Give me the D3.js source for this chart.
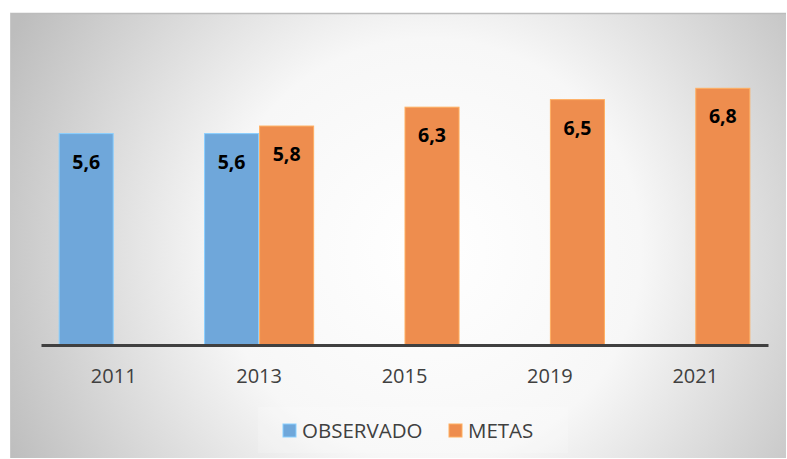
<!DOCTYPE html>
<html>
<head>
<meta charset="utf-8">
<script src="https://cdn.jsdelivr.net/npm/d3@7"></script>
<style>
  body { margin: 0; background: #fff; }
  svg { display: block; }
</style>
</head>
<body>
<div id="chart"></div>
<script>
// data
var years = ['2011', '2013', '2015', '2019', '2021'];
var seriesNames = ['OBSERVADO', 'METAS'];
var observado = [5.6, 5.6, null, null, null];
var metas = [null, 5.8, 6.3, 6.5, 6.8];
var colors = ['#6fa7da', '#ee8d4e'];

var w = 787, h = 459;
var margin = {t: 43, r: 19, b: 114, l: 41};
var pw = w - margin.l - margin.r,
	ph = h - margin.t - margin.b;

var svg = d3.select('#chart').append('svg')
	.attr('width', w)
	.attr('height', h);

// panel background (radial grey->white)
var defs = svg.append('defs');
var grad = defs.append('radialGradient')
	.attr('id', 'bg')
	.attr('gradientUnits', 'userSpaceOnUse')
	.attr('cx', 430).attr('cy', 250).attr('r', 470);
grad.append('stop').attr('offset', '0%').attr('stop-color', '#ffffff');
grad.append('stop').attr('offset', '45%').attr('stop-color', '#f7f7f7');
grad.append('stop').attr('offset', '100%').attr('stop-color', '#bdbdbd');

svg.append('rect')
	.attr('x', 10).attr('y', 13)
	.attr('width', w - 11).attr('height', h - 14)
	.attr('fill', 'url(#bg)');
svg.append('line')
	.attr('x1', 10).attr('x2', w - 1)
	.attr('y1', 13.5).attr('y2', 13.5)
	.attr('stroke', '#bcbcbc').attr('stroke-width', 1.5);
svg.append('line')
	.attr('x1', 10.5).attr('x2', 10.5)
	.attr('y1', 13).attr('y2', h - 1)
	.attr('stroke', '#c8c8c8').attr('stroke-width', 1);

// faint legend backdrop
svg.append('rect')
	.attr('x', 258).attr('y', 407)
	.attr('width', 310).attr('height', 46)
	.attr('fill', '#fff').attr('opacity', 0.18);

var g = svg.append('g')
	.attr('transform', 'translate(' + margin.l + ',' + margin.t + ')');

var x0 = d3.scaleBand().domain(years).range([0, pw]).paddingInner(0.243).paddingOuter(0.1215);
var x1 = d3.scaleBand().domain(seriesNames).range([0, x0.bandwidth()]);
var y = d3.scaleLinear().domain([0, 8]).range([ph, 0]);

var rows = years.map(function(yr, i) {
	return {year: yr, vals: [
		{s: seriesNames[0], v: observado[i], c: colors[0]},
		{s: seriesNames[1], v: metas[i], c: colors[1]}
	].filter(function(d) { return d.v != null; })};
});

var groups = g.selectAll('.grp')
	.data(rows)
	.enter().append('g')
	.attr('class', 'grp')
	.attr('transform', function(d) { return 'translate(' + x0(d.year) + ',0)'; });

groups.selectAll('rect')
	.data(function(d) { return d.vals; })
	.enter().append('rect')
	.attr('x', function(d) { return x1(d.s) + 0.5; })
	.attr('width', x1.bandwidth() - 1)
	.attr('y', function(d) { return y(d.v); })
	.attr('height', function(d) { return ph - y(d.v); })
	.attr('fill', function(d) { return d.c; })
	.attr('stroke', function(d) { return d3.color(d.c).brighter(0.6); })
	.attr('stroke-width', 1);

// value labels
groups.selectAll('text.val')
	.data(function(d) { return d.vals; })
	.enter().append('text')
	.attr('class', 'val')
	.attr('x', function(d) { return x1(d.s) + x1.bandwidth() / 2; })
	.attr('y', function(d) { return y(d.v) + 35; })
	.attr('text-anchor', 'middle')
	.style('font-family', 'Open Sans, sans-serif')
	.style('font-weight', 'bold')
	.style('font-size', '19.5px')
	.attr('fill', '#000')
	.text(function(d) { return d3.format('.1f')(d.v).replace('.', ','); });

// x axis
var xAxis = g.append('g')
	.attr('transform', 'translate(0,' + ph + ')')
	.call(d3.axisBottom(x0).tickSize(0).tickPadding(24));
xAxis.select('.domain')
	.attr('stroke', '#404040')
	.attr('stroke-width', 3);
xAxis.selectAll('text')
	.style('font-family', 'Open Sans, sans-serif')
	.style('font-size', '20px')
	.attr('fill', '#404040');

// legend
var legend = svg.append('g')
	.attr('transform', 'translate(283,430)');
var legX = [0, 166];
var items = legend.selectAll('g')
	.data(seriesNames)
	.enter().append('g')
	.attr('transform', function(d, i) { return 'translate(' + legX[i] + ',0)'; });
items.append('rect')
	.attr('x', 0).attr('y', -6)
	.attr('width', 13).attr('height', 13)
	.attr('fill', function(d, i) { return colors[i]; })
	.attr('stroke', function(d, i) { return d3.color(colors[i]).brighter(0.6); });
items.append('text')
	.attr('x', 19).attr('y', 1)
	.attr('dy', '0.35em')
	.style('font-family', 'Open Sans, sans-serif')
	.style('font-size', '20.5px')
	.attr('fill', '#404040')
	.text(function(d) { return d; });
</script>
</body>
</html>
